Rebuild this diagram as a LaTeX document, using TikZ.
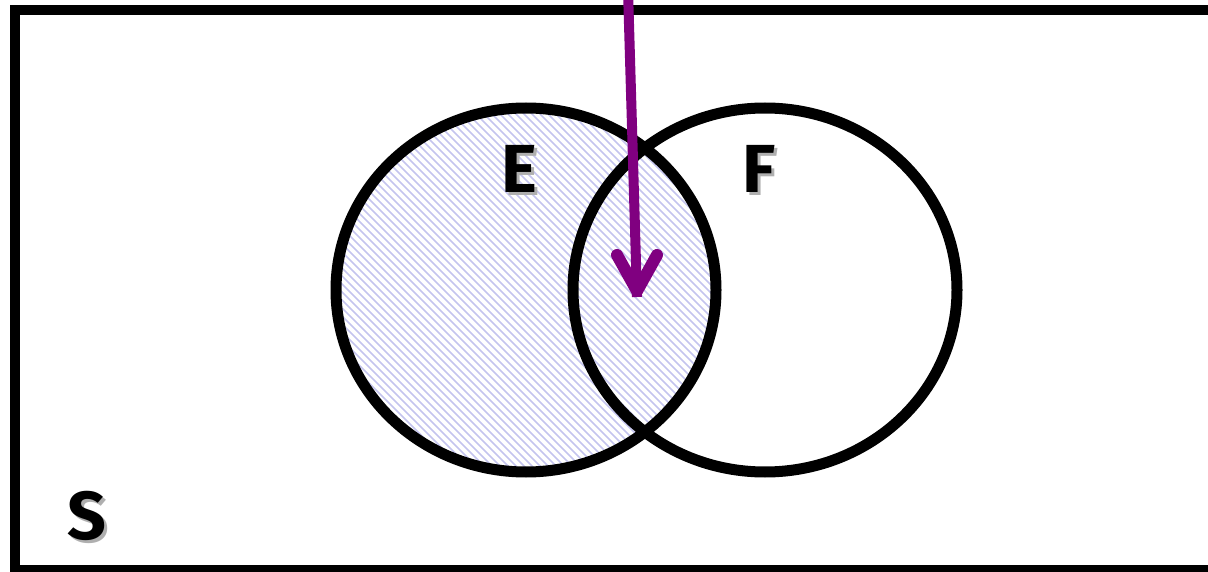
\documentclass[tikz,border=0pt]{standalone}
\usepackage{fontspec}
\setmainfont{Fira Sans}
\definecolor{hatch}{RGB}{196,196,238}
\definecolor{arrowpurple}{RGB}{128,0,128}
\definecolor{shadowgray}{RGB}{175,175,175}
\newcommand{\shadowtext}[1]{\rlap{\hspace{3pt}\raisebox{-3pt}{\textcolor{shadowgray}{#1}}}#1}
\tikzset{
  setline/.style={line width=11pt, draw=black},
  frameline/.style={line width=10pt, draw=black},
  lbl/.style={font=\fontsize{68}{68}\selectfont\bfseries, inner sep=0pt, text=black},
  purplearrow/.style={line width=10pt, draw=arrowpurple, line cap=round, line join=round},
}
\begin{document}
\begin{tikzpicture}[x=1pt,y=-1pt]
\useasboundingbox (0,0) rectangle (1208,572);
% frame S
\coordinate (fnw) at (14.5,10);
\coordinate (fse) at (1240,570);
\draw[frameline] (fnw) rectangle (fse);
% centers
\coordinate (cE) at (526,290);
\coordinate (cF) at (765,290);
% hatch fill of E
\begin{scope}
  \clip (cE) ellipse [x radius=190pt, y radius=182pt];
  \foreach \c in {-150,-142,...,620} {
    \draw[hatch, line width=1.7pt] (\c+90,90) -- (\c+490,490);
  }
\end{scope}
% circles
\draw[setline] (cE) ellipse [x radius=190pt, y radius=182pt];
\draw[setline] (cF) ellipse [x radius=192pt, y radius=182pt];
% labels with shadows
\node[lbl] (E) at (519,170) {\shadowtext{E}};
\node[lbl] (F) at (759,170) {\shadowtext{F}};
\node[lbl] (S) at (87,517) {\shadowtext{S}};
% arrow
\coordinate (atop) at (628,-10);
\coordinate (atip) at (637,291);
\coordinate (abl) at (617,255);
\coordinate (abr) at (657,255);
\draw[purplearrow, line cap=butt] (atop) -- ([yshift=-6pt]atip);
\draw[purplearrow, line width=12pt] (abl) -- (atip) -- (abr);
\end{tikzpicture}
\end{document}
